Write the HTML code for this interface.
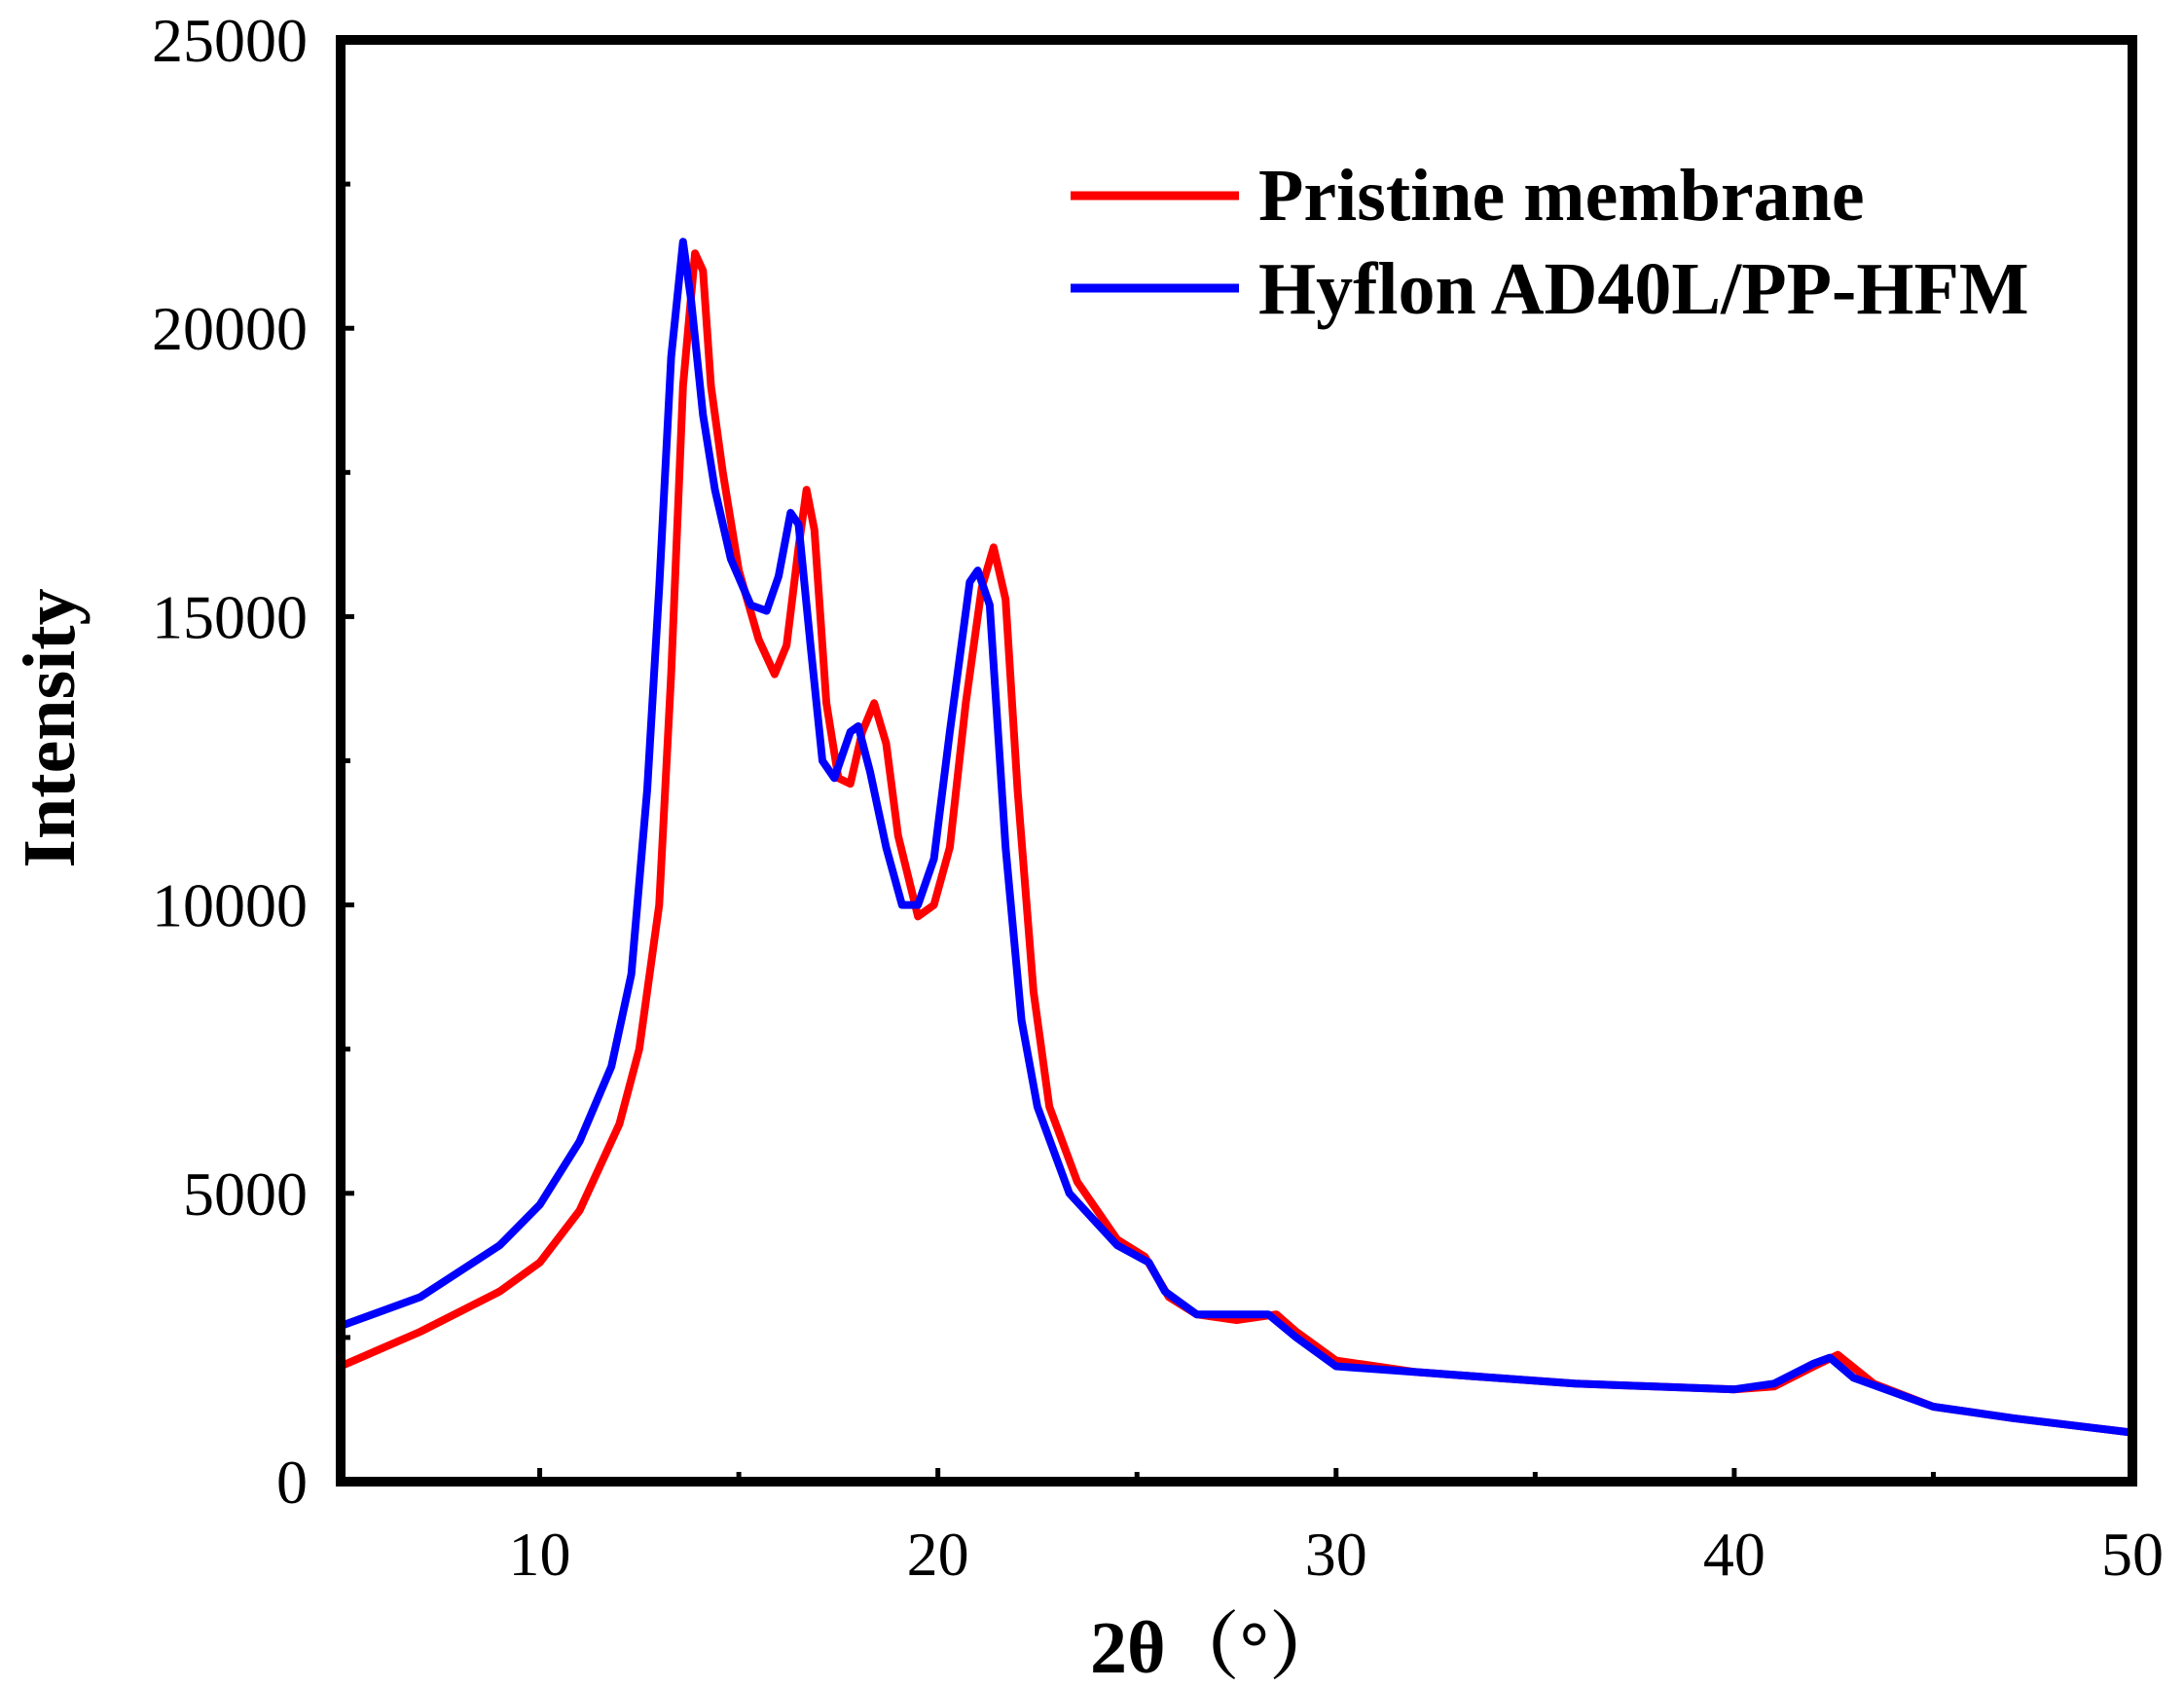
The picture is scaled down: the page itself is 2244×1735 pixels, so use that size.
<!DOCTYPE html>
<html><head><meta charset="utf-8"><style>
html,body{margin:0;padding:0;background:#fff;}
svg{display:block;}
text{font-family:"Liberation Serif","Noto Serif CJK SC",serif;fill:#000;}
</style></head><body>
<svg id="s" width="2244" height="1735" viewBox="0 0 2244 1735" xmlns="http://www.w3.org/2000/svg">
<g id="ticks" stroke="#000" stroke-width="5"></g>
<g id="lab"></g>
<polyline id="red" fill="none" stroke="#ff0000" stroke-width="8" stroke-linejoin="round"/>
<polyline id="blue" fill="none" stroke="#0000ff" stroke-width="8" stroke-linejoin="round"/>
<rect x="350" y="41" width="1841" height="1481" fill="none" stroke="#000" stroke-width="10"/>
<line x1="1100" y1="201" x2="1273" y2="201" stroke="#ff0000" stroke-width="9"/>
<line x1="1100" y1="296" x2="1273" y2="296" stroke="#0000ff" stroke-width="9"/>
<text x="1293" y="226" font-size="76" font-weight="bold">Pristine membrane</text>
<text x="1293" y="322" font-size="76" font-weight="bold">Hyflon AD40L/PP-HFM</text>
<text x="1250" y="1718" font-size="76" font-weight="bold" text-anchor="middle">2θ（°）</text>
<text transform="translate(76,748) rotate(-90)" font-size="76" font-weight="bold" text-anchor="middle">Intensity</text>
</svg>
<script>
var X=function(t){return 350+(t-5)*1841/45;},Y=function(v){return 1522-v*1481/25000;};
var red=[[5,2000],[7,2600],[9,3300],[10,3800],[11,4700],[12,6200],[12.5,7500],[13,10000],[13.3,14000],[13.6,19000],[13.9,21300],[14.1,21000],[14.3,19000],[14.6,17500],[15,15800],[15.5,14600],[15.9,14000],[16.2,14500],[16.5,16200],[16.7,17200],[16.9,16500],[17.2,13500],[17.5,12200],[17.8,12100],[18.1,13000],[18.4,13500],[18.7,12800],[19,11200],[19.5,9800],[19.9,10000],[20.3,11000],[20.7,13500],[21.1,15500],[21.4,16200],[21.7,15300],[22,12000],[22.4,8500],[22.8,6500],[23.5,5200],[24.5,4200],[25.2,3900],[25.8,3200],[26.5,2900],[27.5,2800],[28.5,2900],[29,2600],[30,2100],[32,1900],[34,1800],[36,1700],[38,1650],[40,1600],[41,1650],[42,2000],[42.6,2200],[43.5,1700],[45,1300],[47,1100],[50,850]];
var blue=[[5,2700],[7,3200],[9,4100],[10,4800],[11,5900],[11.8,7200],[12.3,8800],[12.7,12000],[13,15500],[13.3,19500],[13.6,21500],[13.8,20500],[14.1,18500],[14.4,17200],[14.8,16000],[15.3,15200],[15.7,15100],[16,15700],[16.3,16800],[16.5,16600],[16.8,14500],[17.1,12500],[17.4,12200],[17.8,13000],[18,13100],[18.3,12300],[18.7,11000],[19.1,10000],[19.5,10000],[19.9,10800],[20.3,13000],[20.8,15600],[21,15800],[21.3,15200],[21.7,11000],[22.1,8000],[22.5,6500],[23.3,5000],[24.5,4100],[25.3,3800],[25.7,3300],[26.5,2900],[27.5,2900],[28.3,2900],[29,2500],[30,2000],[32,1900],[34,1800],[36,1700],[38,1650],[40,1600],[41,1700],[42,2050],[42.4,2150],[43,1800],[45,1300],[47,1100],[50,850]];
function pts(a){return a.map(function(p){return X(p[0]).toFixed(1)+","+Y(p[1]).toFixed(1);}).join(" ");}
document.getElementById("red").setAttribute("points",pts(red));
document.getElementById("blue").setAttribute("points",pts(blue));
var ns="http://www.w3.org/2000/svg",t=document.getElementById("ticks"),l=document.getElementById("lab");
function ln(a,b,c,d){var e=document.createElementNS(ns,"line");e.setAttribute("x1",a);e.setAttribute("y1",b);e.setAttribute("x2",c);e.setAttribute("y2",d);t.appendChild(e);}
function tx(x,y,s,anc){var e=document.createElementNS(ns,"text");e.setAttribute("x",x);e.setAttribute("y",y);e.setAttribute("font-size","64");e.setAttribute("text-anchor",anc);e.textContent=s;l.appendChild(e);}
for(var v=0;v<=25000;v+=2500){var y=Y(v);ln(350,y,(v%5000==0)?364:360,y);if(v%5000==0)tx(316,y+22,String(v),"end");}
for(var d=5;d<=50;d+=5){var x=X(d);ln(x,1522,x,(d%10==0)?1508:1512);if(d%10==0)tx(x,1618,String(d),"middle");}
</script>
</body></html>
